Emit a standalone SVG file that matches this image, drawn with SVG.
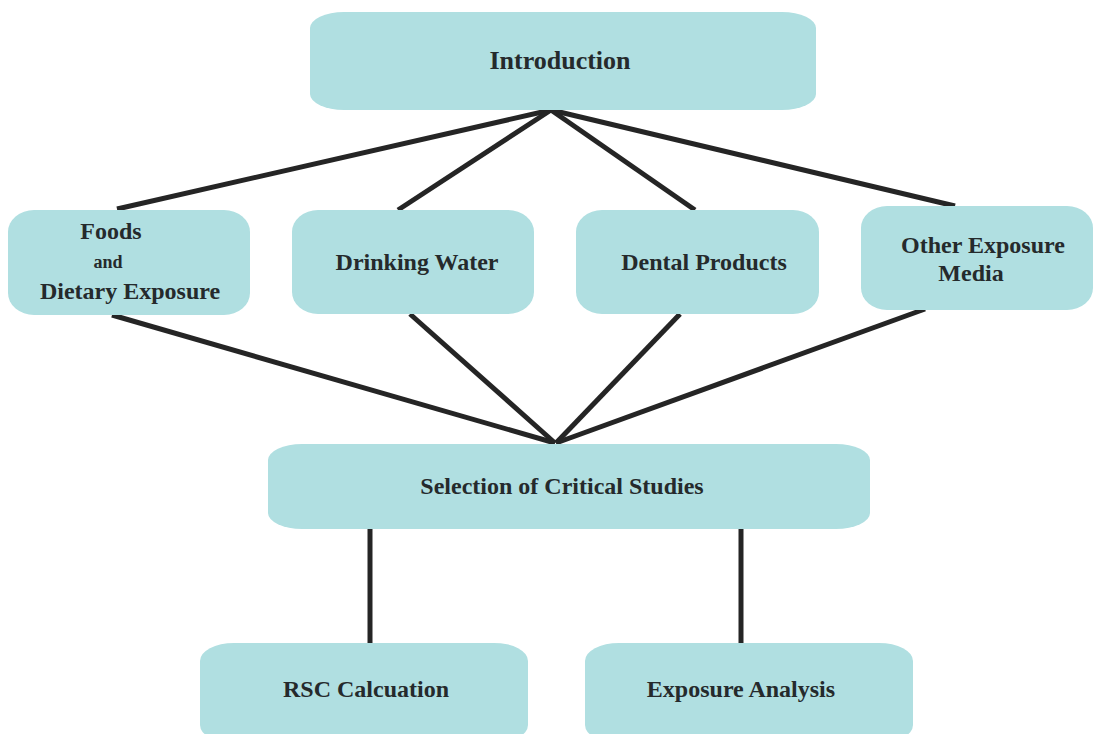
<svg xmlns="http://www.w3.org/2000/svg" width="1094" height="734" viewBox="0 0 1094 734">
<style>
.box{fill:#B0DFE1;}
.t{font-family:"Liberation Serif","Times New Roman",serif;font-weight:bold;fill:#252a2c;text-anchor:middle;font-size:24px;}
.c{stroke:#252525;stroke-width:5;fill:none;stroke-linecap:butt;}
</style>
<rect width="1094" height="734" fill="#ffffff"/>
<g id="connectors">
<line class="c" x1="551" y1="110" x2="117" y2="209"/>
<line class="c" x1="551" y1="110" x2="398" y2="210"/>
<line class="c" x1="551" y1="110" x2="695" y2="210"/>
<line class="c" x1="551" y1="110" x2="955" y2="206"/>
<line class="c" x1="112" y1="315" x2="555" y2="443"/>
<line class="c" x1="410" y1="314" x2="555" y2="443"/>
<line class="c" x1="680" y1="314" x2="556" y2="443"/>
<line class="c" x1="925" y1="309" x2="556" y2="443"/>
<line class="c" x1="370" y1="528" x2="370" y2="643" stroke-width="6"/>
<line class="c" x1="741" y1="528" x2="741" y2="643" stroke-width="6"/>
</g>
<g id="introduction">
<rect class="box" x="310" y="12" width="506" height="98" rx="34" ry="16"/>
<text class="t" x="560" y="69" style="font-size:26px">Introduction</text>
</g>
<g id="foods">
<rect class="box" x="8" y="210" width="242" height="105" rx="26" ry="22"/>
<text class="t" x="111" y="239">Foods</text>
<text class="t" x="108" y="268" style="font-size:18px">and</text>
<text class="t" x="130" y="299">Dietary Exposure</text>
</g>
<g id="drinking-water">
<rect class="box" x="292" y="210" width="242" height="104" rx="26" ry="22"/>
<text class="t" x="417" y="270">Drinking Water</text>
</g>
<g id="dental-products">
<rect class="box" x="576" y="210" width="243" height="104" rx="26" ry="22"/>
<text class="t" x="704" y="270">Dental Products</text>
</g>
<g id="other-exposure-media">
<rect class="box" x="861" y="206" width="232" height="104" rx="26" ry="22"/>
<text class="t" x="983" y="253">Other Exposure</text>
<text class="t" x="971" y="281">Media</text>
</g>
<g id="selection">
<rect class="box" x="268" y="444" width="602" height="85" rx="34" ry="16"/>
<text class="t" x="562" y="494">Selection of Critical Studies</text>
</g>
<g id="rsc-calcuation">
<rect class="box" x="200" y="643" width="328" height="100" rx="34" ry="18"/>
<text class="t" x="366" y="697">RSC Calcuation</text>
</g>
<g id="exposure-analysis">
<rect class="box" x="585" y="643" width="328" height="100" rx="34" ry="18"/>
<text class="t" x="741" y="697">Exposure Analysis</text>
</g>
</svg>
